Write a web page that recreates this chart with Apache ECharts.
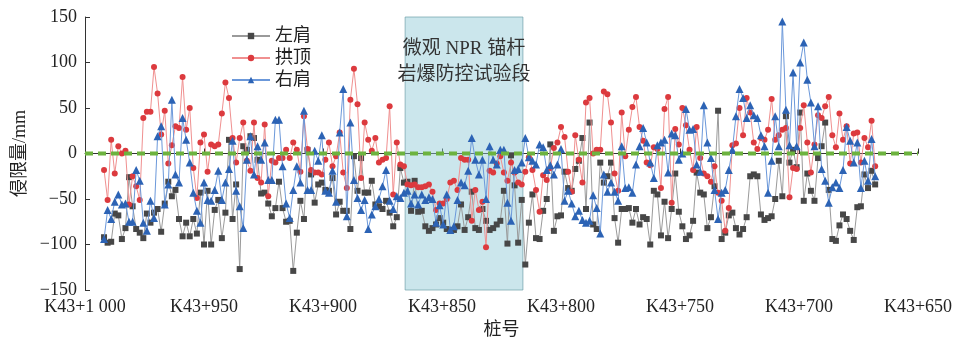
<!DOCTYPE html>
<html><head><meta charset="utf-8">
<script src="https://cdn.jsdelivr.net/npm/echarts@6/dist/echarts.min.js"></script>
<style>html,body{margin:0;padding:0;background:#fff}#c{width:956px;height:341px}</style>
</head><body><div id="c"></div>
<script>
// stations (K43+xxx, metres)
const stations = [
992, 990.5, 989, 987.5, 986, 984.5, 983, 981.5, 980, 978.5,
977, 975.5, 974, 972.5, 971, 969.5, 968, 966.5, 965, 963.5,
962, 960.5, 959, 957.5, 956, 954.5, 953, 951.5, 950, 948.5,
947, 945.5, 944, 942.5, 941, 939.5, 938, 936.5, 935, 933.5,
932, 930.5, 929, 927.5, 926, 924.5, 923, 921.5, 920, 918.5,
917, 915.5, 914, 912.5, 911, 909.5, 908, 906.5, 905, 903.5,
902, 900.5, 899, 897.5, 896, 894.5, 893, 891.5, 890, 888.5,
887, 885.5, 884, 882.5, 881, 879.5, 878, 876.5, 875, 873.5,
872, 870.5, 869, 867.5, 866, 864.5, 863, 861.5, 860, 858.5,
857, 855.5, 854, 852.5, 851, 849.5, 848, 846.5, 845, 843.5,
842, 840.5, 839, 837.5, 836, 834.5, 833, 831.5, 830, 828.5,
827, 825.5, 824, 822.5, 821, 819.5, 818, 816.5, 815, 813.5,
812, 810.5, 809, 807.5, 806, 804.5, 803, 801.5, 800, 798.5,
797, 795.5, 794, 792.5, 791, 789.5, 788, 786.5, 785, 783.5,
782, 780.5, 779, 777.5, 776, 774.5, 773, 771.5, 770, 768.5,
767, 765.5, 764, 762.5, 761, 759.5, 758, 756.5, 755, 753.5,
752, 750.5, 749, 747.5, 746, 744.5, 743, 741.5, 740, 738.5,
737, 735.5, 734, 732.5, 731, 729.5, 728, 726.5, 725, 723.5,
722, 720.5, 719, 717.5, 716, 714.5, 713, 711.5, 710, 708.5,
707, 705.5, 704, 702.5, 701, 699.5, 698, 696.5, 695, 693.5,
692, 690.5, 689, 687.5, 686, 684.5, 683, 681.5, 680, 678.5,
677, 675.5, 674, 672.5, 671, 669.5, 668
];

// 左肩
const leftShoulder = [
-92, -98, -97, -66, -68, -94, -82, -26, -58, -83, -87, -93, -66, -76, -65, -61, -86, -55, -31, -47, -40, -72, -91, -76, -91, -72, -88, -43,
-100, -41, -100, -62, -51, -93, -65, 15, -72, -34, -127, 8, 4, 19, 17, -7, -44, -43, -55, -69, -60, -31, -60, -75, -74, -129, -87, -52, -72, 4,
-23, -54, -34, -32, -40, -41, -27, -67, -53, -63, -63, -83, -3, -41, -5, -43, -43, -30, -56, -58, -61, -52, -65, -80, -70, -16, -32, -31, -63,
-30, -64, -63, -80, -85, -82, -78, -71, -76, -83, -84, -84, -80, -56, -84, -70, -42, -82, -84, -61, -74, -84, -82, -78, -74, -41, -99, -2, -35, -98,
-51, -122, -76, -45, -93, -94, -63, -50, 10, -85, -69, -68, -20, -38, -41, -17, -8, 17, -61, 34, -78, -83, -10, -32, -25, -10, -71, -98, -61,
-61, -60, -76, -61, -78, -70, -72, -100, -41, -45, -90, -53, -93, -61, -22, -64, -80, -94, -90, -74, -21, -43, -45, -82, -70, -36, 47, -94, -87, -68,
-65, -82, -89, -83, -70, -25, -23, -25, -67, -73, -71, -69, -50, -8, -47, 41, -10, 4, -15, 45, -52, -22, -41, -52, -5, 8, 34, -40, -94,
-96, -79, -67, -72, -85, -95, -59, -58, -23, -38, -19, -34
];

// 拱顶
const crown = [
-18, -51, 15, -22, 8, 0, 3, -56, -25, -36, -51, 39, 46, 46, 95, 66, 21, 47, -11, 9, 30, 28, 84, 26, 50, -16, -49, 12,
21, -20, 10, 8, 10, 44, 78, 61, 17, -10, 17, 34, -8, -19, 34, -27, -32, 32, -47, -8, -10, -5, -5, 4, -5, 12, 4, -20, 41, 5,
-18, -21, -21, -23, -7, 12, -14, -3, 23, -21, -38, 59, 93, 54, -27, 34, 15, 3, 17, -10, -7, -5, 52, -45, 12, -12, -14, -34, -35,
-34, -37, -37, -36, -34, -42, -62, -55, -55, -50, -32, -30, -40, -5, -7, -7, -74, -40, -62, -53, -103, -19, -21, -11, -3, -21, -30, -10, -21, -32,
-34, -20, -4, -18, -40, -64, -24, -29, -16, 6, 12, 29, 18, -20, -42, 20, -7, -32, 56, 61, 0, 4, 4, 68, 65, 34, -22, -41, 45,
-3, 26, 51, 62, 29, 14, -10, -13, 7, 5, -38, 49, 62, -54, 27, 10, 50, 31, 4, -18, 29, -5, -22, -25, -31, -14, -43, -52, -85, -60,
9, 11, 50, 20, 61, 45, 12, 5, 17, 15, 26, 60, 15, 20, 26, 28, -48, -16, -17, 28, 53, 12, -21, 10, 42, 39, 52, 62, 20,
7, 44, 15, 30, -11, 22, 23, -10, 17, 7, 36, -14
];

// 右肩
const rightShoulder = [
-94, -62, -72, -53, -45, -56, -55, -75, -75, -18, -30, -76, -85, -52, -71, 19, 30, -56, -34, 59, -23, -32, 39, 15, -10, -43, -63, -76,
-32, -51, -52, -40, -19, -51, -32, -17, 14, -41, -58, -82, -7, 19, -23, 8, -7, 12, -29, -29, 37, 37, -14, -55, -71, -40, -14, -32, 47, -40,
-40, 3, -8, 20, -41, -43, -19, -53, 23, 71, -69, 34, -29, -49, -62, -51, -83, -67, -58, -50, -36, -18, -52, -61, -47, -49, -43, -41, -55,
-45, -56, -45, -51, -48, -50, -76, -57, -78, -45, -84, -80, -51, -32, -35, -19, 17, -7, -23, -7, -50, 8, -7, -12, 4, 4, -54, -74, -18, -17,
-10, 17, -4, -8, -12, 10, 7, -18, -13, -23, -12, 5, -52, -41, -55, -69, -63, -73, -76, -74, -46, -60, -88, -23, -42, -32, -42, -52, 8,
-38, -37, -43, -12, 8, 28, 12, -10, -27, 9, 12, 15, -21, 22, 20, -7, 0, 49, 26, 27, -12, -20, 53, 12, -5, -40, -72, -43, -40, -18,
4, 41, 71, 61, 39, 53, 42, 39, 20, 8, -43, -8, 41, 8, 145, 48, 9, 89, 8, 100, 122, 81, 56, 8, 52, -17, -30, -54, -37,
-32, -38, -18, 29, 14, -10, 12, -38, -8, -30, 16, -25
];

const seriesNames = ['左肩', '拱顶', '右肩'];
const xTicks = [1000, 950, 900, 850, 800, 750, 700, 650];
const xTickLabels = ['K43+1 000', 'K43+950', 'K43+900', 'K43+850', 'K43+800', 'K43+750', 'K43+700', 'K43+650'];
const testSection = [865.5, 816];
const testLabel = '微观 NPR 锚杆\n岩爆防控试验段';
const baselineStations = [1000, 650];
const baselineValues = [0, 0];

const font = "'Liberation Serif', 'Noto Sans CJK SC', serif";
const pairs = (xs, ys) => xs.map((s, i) => [s, ys[i]]);

const chart = echarts.init(document.getElementById('c'), null, {renderer: 'canvas'});
chart.setOption({
  animation: false,
  backgroundColor: '#fff',
  textStyle: {fontFamily: font},
  grid: {left: 85, right: 38, top: 17, bottom: 51, outerBoundsMode: 'none', containLabel: false},
  legend: {
    data: seriesNames, orient: 'vertical', left: 226, top: 22,
    itemWidth: 38, itemHeight: 8, itemGap: 4, selectedMode: false,
    textStyle: {fontSize: 18, color: '#222', fontFamily: font, lineHeight: 18}
  },
  xAxis: {
    type: 'value', inverse: true, min: 650, max: 1000, interval: 50,
    name: '桩号', nameLocation: 'middle', nameGap: 29,
    nameTextStyle: {fontSize: 18, color: '#222', fontFamily: font},
    axisLine: {lineStyle: {color: '#333', width: 1}},
    axisTick: {inside: true, length: 5, lineStyle: {color: '#333'}},
    axisLabel: {fontSize: 18, color: '#222', margin: 8, showMinLabel: true, showMaxLabel: true,
      fontFamily: font,
      formatter: v => { const k = xTicks.indexOf(v); return k >= 0 ? xTickLabels[k] : ''; }},
    splitLine: {show: false}
  },
  yAxis: {
    type: 'value', min: -150, max: 150, interval: 50,
    name: '侵限量/mm', nameLocation: 'middle', nameGap: 56,
    nameTextStyle: {fontSize: 18, color: '#222', fontFamily: font},
    axisLine: {show: true, lineStyle: {color: '#333', width: 1}},
    axisTick: {show: true, inside: true, length: 5, lineStyle: {color: '#333'}},
    axisLabel: {fontSize: 18, color: '#222', margin: 8, fontFamily: font,
      formatter: v => v < 0 ? '\u2212' + Math.abs(v) : String(v)},
    splitLine: {show: false}
  },
  series: [
    {name: seriesNames[0], type: 'line', data: pairs(stations, leftShoulder), symbol: 'rect', symbolSize: 6,
      showAllSymbol: true, z: 2,
      itemStyle: {color: '#474747'}, lineStyle: {color: '#9a9a9a', width: 1}},
    {name: seriesNames[1], type: 'line', data: pairs(stations, crown), symbol: 'circle', symbolSize: 6,
      showAllSymbol: true, z: 3,
      itemStyle: {color: '#dc3a3e'}, lineStyle: {color: '#f09090', width: 1}},
    {name: seriesNames[2], type: 'line', data: pairs(stations, rightShoulder), symbol: 'triangle', symbolSize: 8,
      showAllSymbol: true, z: 4,
      itemStyle: {color: '#2c63b5'}, lineStyle: {color: '#6b98da', width: 1}},
    {name: 'area', type: 'line', data: [], z: 6, silent: true,
      markArea: {silent: true,
        itemStyle: {color: 'rgba(140,200,212,0.45)', borderColor: 'rgba(110,160,170,0.7)', borderWidth: 1},
        label: {show: true, position: 'insideTop', distance: 20, formatter: testLabel,
          fontSize: 19, lineHeight: 26, color: '#333', fontFamily: font, align: 'center'},
        data: [[{xAxis: testSection[0]}, {xAxis: testSection[1]}]]}},
    {name: 'zero', type: 'line', data: pairs(baselineStations, baselineValues), z: 8, silent: true,
      symbol: 'none', lineStyle: {color: '#6db33f', width: 4, type: [8, 5]}}
  ]
});
</script>
</body></html>
